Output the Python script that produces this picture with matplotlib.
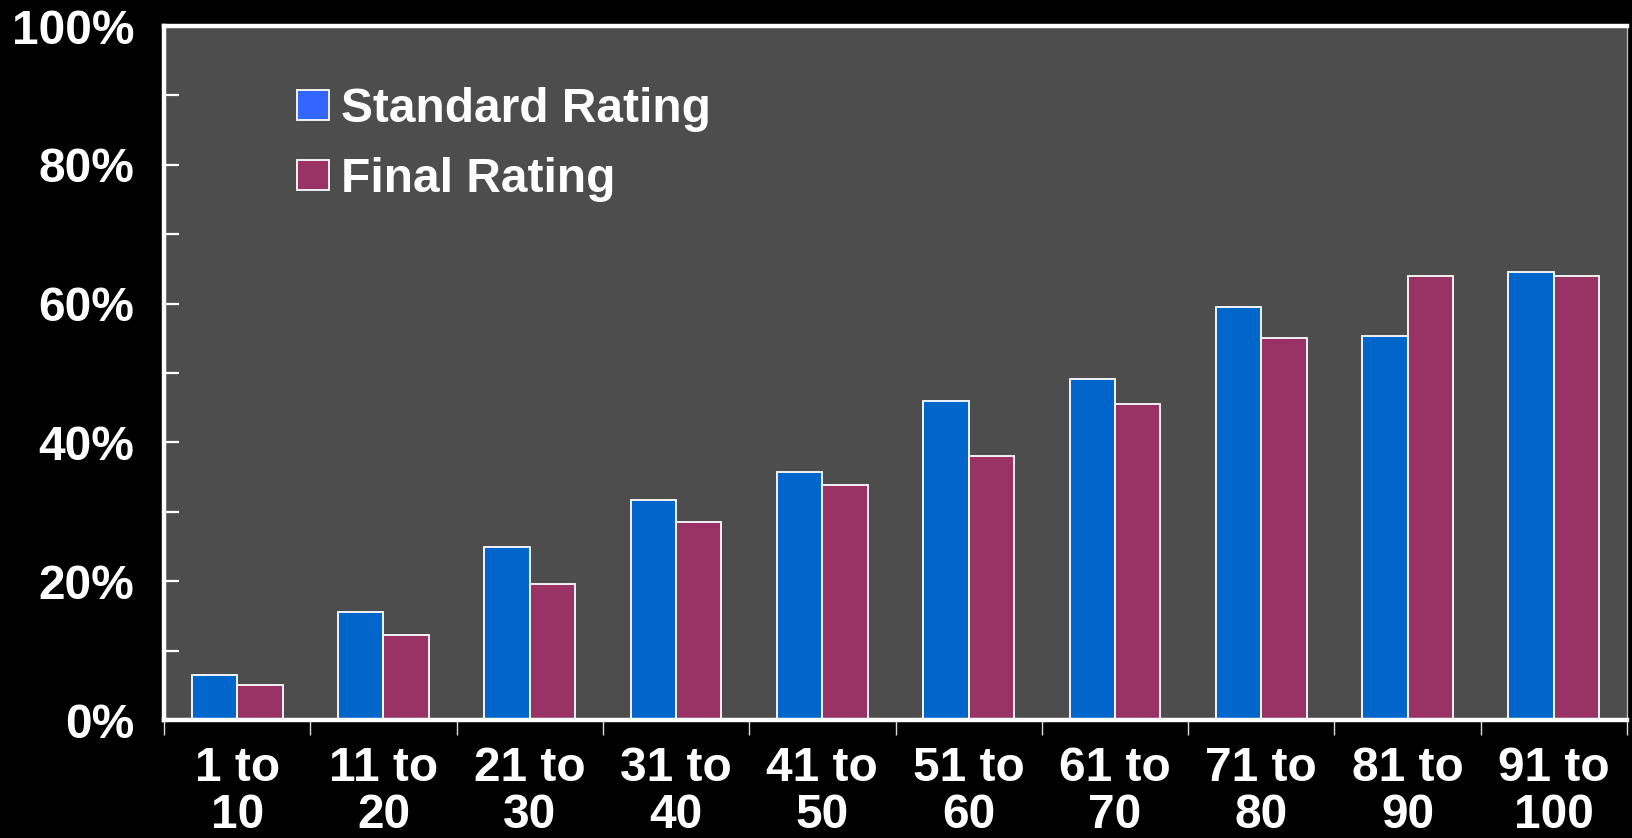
import numpy as np
import matplotlib
matplotlib.use("Agg")
import matplotlib.pyplot as plt
from matplotlib.patches import Patch

# Values (percent)
categories = ["1 to\n10", "11 to\n20", "21 to\n30", "31 to\n40", "41 to\n50",
              "51 to\n60", "61 to\n70", "71 to\n80", "81 to\n90", "91 to\n100"]
standard_rating = [6.5, 15.5, 24.9, 31.7, 35.7, 46.0, 49.2, 59.5, 55.4, 64.5]
final_rating = [5.1, 12.3, 19.6, 28.5, 33.9, 38.0, 45.6, 55.0, 64.0, 64.0]

plt.rcParams['font.family'] = ['Liberation Sans', 'DejaVu Sans']
plt.rcParams['font.weight'] = 'bold'
FS = 34.5

fig = plt.figure(figsize=(16.32, 8.38), dpi=100, facecolor='black')
ax = fig.add_axes([164/1632, (838-720)/838, (1627-164)/1632, (720-26)/838])
ax.set_facecolor('#4d4d4d')

x = np.arange(len(categories))
w = 0.31
ax.bar(x - w/2, standard_rating, w, color='#0066cc', edgecolor='white', linewidth=1.3)
ax.bar(x + w/2, final_rating, w, color='#993366', edgecolor='white', linewidth=1.3)

ax.set_xlim(-0.5, len(categories) - 0.5)
ax.set_ylim(0, 100)

# y axis: labels every 20%, ticks every 10%, pointing inwards
ax.set_yticks(np.arange(0, 101, 20))
ax.set_yticklabels([f"{v}%" for v in range(0, 101, 20)])
ax.set_yticks(np.arange(10, 100, 20), minor=True)
ax.tick_params(axis='y', which='both', direction='in', length=11, width=1.6,
               color='white', labelcolor='white', labelsize=FS, pad=21.5)

# x axis: labels at centers, tick marks at category boundaries
ax.set_xticks(x)
ax.set_xticklabels(categories, linespacing=1.06)
ax.set_xticks(np.arange(-0.5, len(categories)), minor=True)
ax.tick_params(axis='x', which='major', length=0, labelcolor='white',
               labelsize=FS, pad=19)
ax.tick_params(axis='x', which='minor', direction='out', length=11, width=1,
               color='#dddddd')

for side in ['left', 'bottom', 'top']:
    ax.spines[side].set_color('white')
    ax.spines[side].set_linewidth(3.2)
ax.spines['right'].set_color('#bbbbbb')
ax.spines['right'].set_linewidth(1)

handles = [Patch(facecolor='#3366ff', edgecolor='white', linewidth=1.3),
           Patch(facecolor='#993366', edgecolor='white', linewidth=1.3)]
leg = ax.legend(handles, ["Standard Rating", "Final Rating"],
                loc='upper left', bbox_to_anchor=(0.0909, 0.912),
                frameon=False, fontsize=FS, borderpad=0, borderaxespad=0,
                handlelength=0.67, handleheight=0.58, handletextpad=0.25,
                labelspacing=0.52)
for t in leg.get_texts():
    t.set_color('white')

fig.savefig('out.png', dpi=100, facecolor='black')
